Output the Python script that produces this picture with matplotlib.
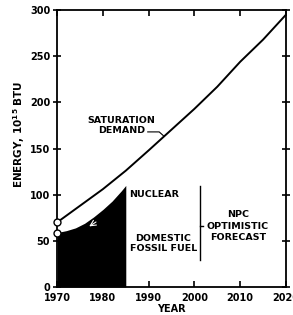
"""
Energy supply / saturation demand, 1970-2020
"""
import numpy as np
import matplotlib.pyplot as plt

# saturation demand curve (10^15 BTU)
demand_years = [1970, 1975, 1980, 1985, 1990, 1994, 2000, 2005, 2010, 2015, 2020]
demand_vals = [70, 88, 106, 126, 148, 166, 193, 217, 244, 268, 295]

# domestic fossil fuel + nuclear (black area)
supply_years = [1970, 1972, 1974, 1976, 1978, 1980, 1982, 1984, 1985]
supply_vals = [59, 61, 64, 69, 76, 84, 93, 104, 110]

xticks = [1970, 1980, 1990, 2000, 2010, 2020]
yticks = [0, 50, 100, 150, 200, 250, 300]

plt.rcParams['font.family'] = 'DejaVu Sans'
plt.rcParams['font.weight'] = 'bold'

fig = plt.figure(figsize=(2.93, 3.15), dpi=100)
ax = fig.add_axes([0.195, 0.089, 0.781, 0.879])

ax.fill_between(supply_years, 0, supply_vals, color='black', lw=0)
ax.plot(demand_years, demand_vals, color='black', lw=1.4)

# open circles at 1970
ax.plot([1970, 1970], [demand_vals[0], supply_vals[0]], 'o', ms=5,
        mfc='white', mec='black', mew=1, clip_on=False, zorder=5)

# small white arrow inside black area
ax.annotate('', xy=(1976.5, 64), xytext=(1979, 72),
            arrowprops=dict(arrowstyle='->', color='white', lw=0.8))

ax.set_xlim(1970, 2020)
ax.set_ylim(0, 300)
ax.set_xticks(xticks)
ax.set_yticks(yticks)
ax.tick_params(direction='in', length=4, width=1.2, labelsize=7,
               top=True, right=True)
ax.tick_params(axis='x', pad=4)
ax.tick_params(axis='y', direction='inout', length=6, pad=2)
for lab in ax.get_xticklabels() + ax.get_yticklabels():
    lab.set_fontweight('bold')
for s in ax.spines.values():
    s.set_linewidth(1.3)

ax.set_xlabel('YEAR', fontsize=7, fontweight='bold', labelpad=1)
ax.set_ylabel('ENERGY, 10$^{15}$ BTU', fontsize=7.5, fontweight='bold')

fs = 6.8
ax.text(1984, 175, 'SATURATION\nDEMAND', fontsize=fs, fontweight='bold',
        ha='center', va='center', linespacing=1.1)
ax.plot([1989.8, 1992.3, 1993.2], [168, 168, 164], color='black', lw=0.8)
ax.text(1985.8, 100, 'NUCLEAR', fontsize=fs, fontweight='bold', ha='left', va='center')
ax.text(1993.2, 47, 'DOMESTIC\nFOSSIL FUEL', fontsize=fs, fontweight='bold',
        ha='center', va='center', linespacing=1.1)
ax.text(2009.5, 66, 'NPC\nOPTIMISTIC\nFORECAST', fontsize=fs, fontweight='bold',
        ha='center', va='center', linespacing=1.3)
# bracket
ax.plot([2001.2, 2001.2], [29, 109], color='black', lw=1)
ax.plot([2001.2, 2001.8], [66, 66], color='black', lw=1)

ax.yaxis.set_label_coords(-0.13, 0.55)

fig.savefig('out.png', dpi=100)
